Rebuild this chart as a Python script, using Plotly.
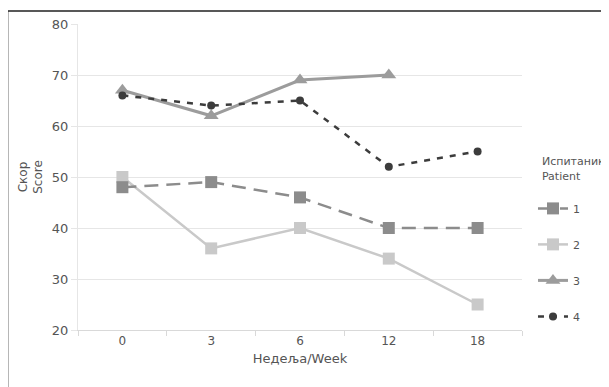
import plotly.graph_objects as go

weeks = ["0", "3", "6", "12", "18"]
patient1 = [48, 49, 46, 40, 40]
patient2 = [50, 36, 40, 34, 25]
patient3 = [67, 62, 69, 70, None]
patient4 = [66, 64, 65, 52, 55]
names = ["1", "2", "3", "4"]

FONT = "DejaVu Sans"
TXT = "#555555"

fig = go.Figure()
fig.add_trace(go.Scatter(x=weeks, y=patient2, name=names[1], mode="lines+markers",
                         line=dict(color="#c9c9c9", width=2.5),
                         marker=dict(symbol="square", size=12, color="#c9c9c9"),
                         legendrank=2, legendgroup="b"))
fig.add_trace(go.Scatter(x=weeks, y=patient1, name=names[0], mode="lines+markers",
                         line=dict(color="#8c8c8c", width=2.5, dash="14px,8px"),
                         marker=dict(symbol="square", size=12, color="#8c8c8c"),
                         legendrank=1, legendgroup="a"))
fig.add_trace(go.Scatter(x=weeks, y=patient3, name=names[2], mode="lines+markers",
                         line=dict(color="#9c9c9c", width=3),
                         marker=dict(symbol="triangle-up", size=13, color="#9c9c9c"),
                         legendrank=3, legendgroup="c"))
fig.add_trace(go.Scatter(x=weeks, y=patient4, name=names[3], mode="lines+markers",
                         line=dict(color="#3c3c3c", width=2.5, dash="6px,7px"),
                         marker=dict(symbol="circle", size=8, color="#3c3c3c"),
                         legendrank=4, legendgroup="d"))

# page body has an 8px default margin; compensate
OFF = 8
W, H = 609, 387
L, T = 77.5 - OFF, 24 - OFF
pw = 522 - 77.5
ph = 330 - 24
R = W - L - pw
B = H - T - ph

def px_x(x):  # page pixel -> paper x
    return (x - OFF - L) / pw

def px_y(y):  # page pixel -> paper y
    return 1 - (y - OFF - T) / ph

fig.update_layout(
    width=W, height=H,
    margin=dict(l=L, r=R, t=T, b=B, autoexpand=False),
    paper_bgcolor="white", plot_bgcolor="white",
    font=dict(family=FONT, size=13, color=TXT),
    showlegend=True,
    legend=dict(
        x=px_x(533), xanchor="left", y=px_y(151), yanchor="top",
        title=dict(text="\u00a0\u00a0Испитаник<br>\u00a0\u00a0Patient<br>\u00a0",
                   font=dict(size=11, color=TXT)),
        font=dict(size=11, color=TXT),
        tracegroupgap=17, itemwidth=30,
        bgcolor="rgba(0,0,0,0)",
    ),
    xaxis=dict(
        type="category", range=[-0.5, 4.5],
        title=dict(text="Недеља/Week", standoff=6, font=dict(size=13, color=TXT)),
        showgrid=False, showline=True, linecolor="#d9d9d9", linewidth=1,
        ticks="outside", tickson="boundaries", ticklen=5, tickcolor="#d9d9d9",
        tickfont=dict(size=12, color=TXT),
    ),
    yaxis=dict(
        range=[20, 80], dtick=10,
        title=dict(text="Скор<br>Score", standoff=6, font=dict(size=12, color=TXT)),
        showgrid=True, gridcolor="#e6e6e6", gridwidth=1,
        showline=True, linecolor="#e6e6e6", zeroline=False,
        ticks="outside", ticklen=6, tickcolor="#e6e6e6",
        tickfont=dict(size=13, color=TXT),
    ),
    shapes=[dict(type="rect", xref="paper", yref="paper",
                 x0=px_x(7), x1=px_x(660),
                 y0=px_y(420), y1=px_y(11),
                 line=dict(color="#222222", width=1.5), fillcolor="rgba(0,0,0,0)", layer="below")],
)

fig.write_html("out.html")
